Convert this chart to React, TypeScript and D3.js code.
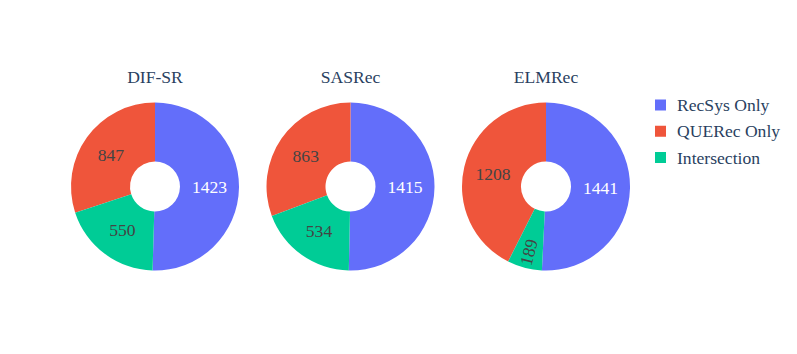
import React, { useRef, useEffect } from 'react';
import * as d3 from 'd3';

const models = ['DIF-SR', 'SASRec', 'ELMRec'];
const categories = ['RecSys Only', 'QUERec Only', 'Intersection'];
const recsysOnly = [1423, 1415, 1441];
const querecOnly = [847, 863, 1208];
const intersection = [550, 534, 189];
const colors = ['#636efa', '#EF553B', '#00cc96'];
// clockwise order from 12 o'clock
const drawOrder = ['RecSys Only', 'Intersection', 'QUERec Only'];

const W = 797;
const H = 354;
const FONT = '"Liberation Serif", "Times New Roman", serif';
const FS = 17.6;

type Slice = { name: string; value: number; color: string };

const App = () => {
  const svgRef = useRef<SVGSVGElement>(null);

  useEffect(() => {
    const svg = d3.select(svgRef.current);
    svg.selectAll('*').remove();

    const x = d3.scaleBand<string>().domain(models).range([57.25, 643.75]);
    const cy = 186.5;
    const outerR = 84;
    const innerR = 25;

    const pie = d3.pie<Slice>()
      .value(d => d.value)
      .sort((a, b) => drawOrder.indexOf(a.name) - drawOrder.indexOf(b.name));
    const arc = d3.arc<d3.PieArcDatum<Slice>>().innerRadius(innerR).outerRadius(outerR);
    const labelArc = d3.arc<d3.PieArcDatum<Slice>>()
      .innerRadius((innerR + outerR) / 2).outerRadius((innerR + outerR) / 2);

    models.forEach((m, i) => {
      const slices: Slice[] = [
        { name: categories[0], value: recsysOnly[i], color: colors[0] },
        { name: categories[1], value: querecOnly[i], color: colors[1] },
        { name: categories[2], value: intersection[i], color: colors[2] },
      ];
      const total = d3.sum(slices, d => d.value);
      const cx = x(m)! + x.bandwidth() / 2;
      const g = svg.append('g').attr('transform', `translate(${cx},${cy})`);

      g.selectAll('path')
        .data(pie(slices))
        .enter().append('path')
        .attr('d', arc)
        .attr('fill', d => d.data.color);

      g.selectAll('text.lbl')
        .data(pie(slices))
        .enter().append('text')
        .attr('class', 'lbl')
        .attr('transform', d => {
          const frac = d.data.value / total;
          if (frac < 0.1) {
            const a = (d.startAngle + d.endAngle) / 2;
            const r = outerR - 16;
            const px = r * Math.sin(a);
            const py = -r * Math.cos(a);
            const rot = Math.atan2(Math.cos(a), -Math.sin(a)) * 180 / Math.PI;
            return `translate(${px},${py}) rotate(${rot})`;
          }
          return `translate(${labelArc.centroid(d)})`;
        })
        .attr('dy', '0.35em')
        .attr('text-anchor', 'middle')
        .style('font-family', FONT)
        .style('font-size', `${FS}px`)
        .style('fill', d => (d.data.name === 'RecSys Only' ? '#ffffff' : '#444444'))
        .text(d => d.data.value);

      svg.append('text')
        .attr('x', cx)
        .attr('y', 83)
        .attr('text-anchor', 'middle')
        .style('font-family', FONT)
        .style('font-size', `${FS}px`)
        .style('fill', '#2a3f5f')
        .text(m);
    });

    const legendY = d3.scalePoint<string>().domain(categories).range([105, 157.5]);
    const lg = svg.append('g');
    categories.forEach((c, i) => {
      const y = legendY(c)!;
      lg.append('rect')
        .attr('x', 655)
        .attr('y', y - 5.5)
        .attr('width', 11)
        .attr('height', 11)
        .attr('fill', colors[i]);
      lg.append('text')
        .attr('x', 677)
        .attr('y', y)
        .attr('dy', '0.35em')
        .style('font-family', FONT)
        .style('font-size', `${FS}px`)
        .style('fill', '#2a3f5f')
        .text(c);
    });
  }, []);

  return (
    <svg ref={svgRef} width={W} height={H}
      style={{ position: 'absolute', left: 0, top: 0, background: '#fff' }} />
  );
};

export default App;
